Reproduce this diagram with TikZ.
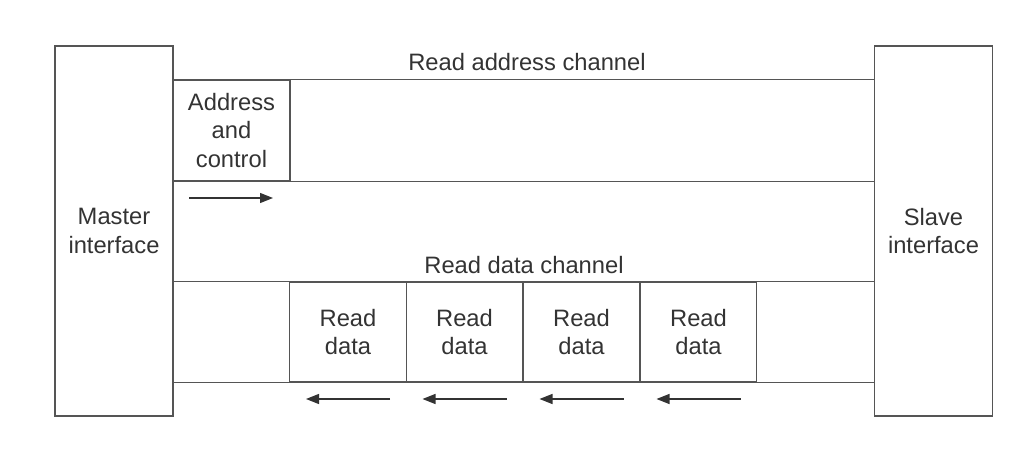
\documentclass[tikz,border=0pt]{standalone}
\usepackage{fontspec}
\setmainfont{Liberation Sans}
\usepackage{tikz}
\usetikzlibrary{arrows.meta,calc,positioning}
\definecolor{rule}{HTML}{555555}
\definecolor{ink}{HTML}{333333}
\tikzset{
  >={Triangle[length=2.6mm,width=2mm]},
  every node/.style={font=\fontsize{13.5}{16}\selectfont,text=ink},
  iface/.style={draw=rule,line width=0.75pt,minimum width=23.6mm,minimum height=74mm,align=center,inner sep=0pt},
  cell/.style={draw=rule,line width=0.75pt,minimum width=23.3mm,minimum height=20mm,align=center,inner sep=0pt},
  chan/.style={rule,line width=0.75pt},
  flow/.style={ink,line width=0.75pt,->},
}

\begin{document}
\begin{tikzpicture}[x=0.2mm,y=-0.2mm]
  \useasboundingbox (0,0) rectangle (1024,451);
  % interfaces
  \node[iface] (master) at (114,231) {Master\\interface};
  \node[iface] (slave) at (933.5,231) {Slave\\interface};
  % read address channel
  \node[cell,minimum width=23.4mm,minimum height=20.2mm] (addr) at (231.5,130.5) {Address\\and\\control};
  \draw[chan] (addr.north east) -- (addr.north east -| slave.west);
  \draw[chan] (addr.south east) -- (addr.south east -| slave.west);
  \node (raddr) at (527,62) {Read address channel};
  \coordinate (a0) at (189,198);
  \coordinate (a1) at (273,198);
  \draw[flow] (a0) -- (a1);
  % read data channel
  \node (rdata) at (524,265) {Read data channel};
  \foreach \i/\x in {1/348,2/464.5,3/581.5,4/698.5} {
    \node[cell] (d\i) at (\x,332) {Read\\data};
    \coordinate (s\i) at (\x+42,399);
    \coordinate (e\i) at (\x-42,399);
    \draw[flow] (s\i) -- (e\i);
  }
  \draw[chan] (master.east |- d1.north) -- (d1.north west);
  \draw[chan] (master.east |- d1.south) -- (d1.south west);
  \draw[chan] (d4.north east) -- (slave.west |- d4.north);
  \draw[chan] (d4.south east) -- (slave.west |- d4.south);
\end{tikzpicture}
\end{document}
